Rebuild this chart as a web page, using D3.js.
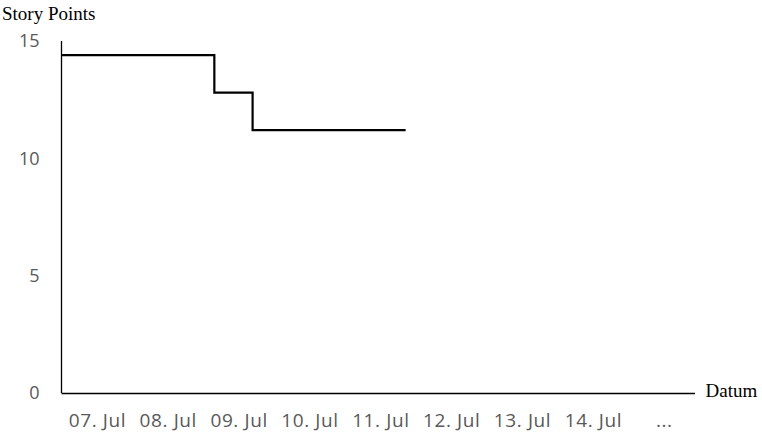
<!DOCTYPE html>
<html><head><meta charset="utf-8">
<script src="https://cdn.jsdelivr.net/npm/d3@7"></script>
<style>body{margin:0;background:#fff}svg{display:block}</style>
</head><body>
<svg id="c" width="762" height="435"></svg>
<script>
const dayLabels = ["07. Jul","08. Jul","09. Jul","10. Jul","11. Jul","12. Jul","13. Jul","14. Jul","..."];
const stepDays = [0, 2.15, 2.69, 4.85];      // time (days since 07. Jul)
const storyPoints = [14.4, 12.8, 11.2, 11.2];
const yTicks = [0, 5, 10, 15];

const svg = d3.select("#c");
const x = d3.scaleLinear().domain([0, 9]).range([62, 699.7]);
const y = d3.scaleLinear().domain([0, 15]).range([393, 41]);

// axes lines
svg.append("line").attr("x1", 61.5).attr("x2", 61.5).attr("y1", y(15)).attr("y2", y(0))
  .attr("stroke", "#000").attr("stroke-width", 1.3);
svg.append("line").attr("x1", 61.5).attr("x2", 695).attr("y1", y(0)+0.5).attr("y2", y(0)+0.5)
  .attr("stroke", "#000").attr("stroke-width", 1.3);

// y tick labels
svg.selectAll(".yt").data(yTicks).enter().append("text")
  .attr("x", 39.5).attr("y", d => y(d)).attr("dy", "0.35em")
  .attr("text-anchor", "end").attr("fill", "#595959")
  .attr("font-family", "'Open Sans', sans-serif").attr("font-size", 18)
  .text(d => d);

// x tick labels
svg.selectAll(".xt").data(dayLabels).enter().append("text")
  .attr("x", (d, i) => x(i + 0.5)).attr("y", 427)
  .attr("text-anchor", "middle").attr("fill", "#595959")
  .attr("font-family", "'Open Sans', sans-serif").attr("font-size", 19)
  .attr("letter-spacing", 0.6)
  .text(d => d);

// titles
svg.append("text").attr("x", 2).attr("y", 20)
  .attr("font-family", "'Liberation Serif', 'Times New Roman', serif").attr("font-size", 19)
  .text("Story Points");
svg.append("text").attr("x", 705.5).attr("y", 397)
  .attr("font-family", "'Liberation Serif', 'Times New Roman', serif").attr("font-size", 19)
  .text("Datum");

// step line
const pts = stepDays.map((d, i) => [d, storyPoints[i]]);
const line = d3.line().x(d => x(d[0])).y(d => y(d[1])).curve(d3.curveStepAfter);
svg.append("path").attr("d", line(pts)).attr("fill", "none")
  .attr("stroke", "#000").attr("stroke-width", 2.2);
</script>
</body></html>
